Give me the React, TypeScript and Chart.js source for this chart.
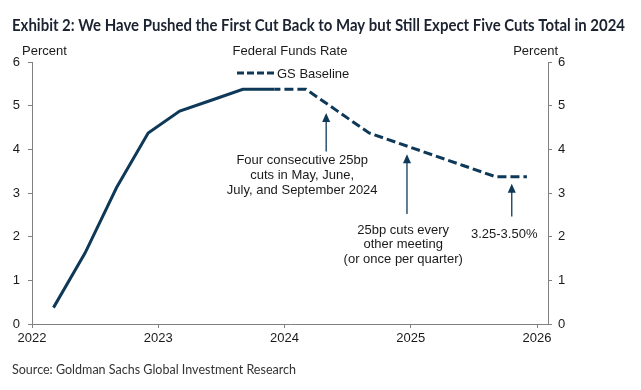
import React, { useEffect, useRef } from "react";
import { Chart, registerables } from "chart.js";

Chart.register(...registerables);

// ---- data ----
const titleText = "Exhibit 2: We Have Pushed the First Cut Back to May but Still Expect Five Cuts Total in 2024";
const sourceText = "Source: Goldman Sachs Global Investment Research";
const chartLabel = "Federal Funds Rate";
const seriesName = "GS Baseline";
const axisUnit = "Percent";

// decimal years (quarterly observations), fed funds target-range midpoint
const actualDates = [2022.17, 2022.42, 2022.67, 2022.92, 2023.17, 2023.42, 2023.67, 2023.92];
const actualValues = [0.375, 1.625, 3.125, 4.375, 4.875, 5.125, 5.375, 5.375];
const baselineDates = [2023.92, 2024.17, 2024.42, 2024.67, 2024.92, 2025.17, 2025.42, 2025.67, 2025.92];
const baselineValues = [5.375, 5.375, 4.875, 4.375, 4.125, 3.875, 3.625, 3.375, 3.375];

const xMin = 2022;
const xMax = 2026.087;
const yTicks = [0, 1, 2, 3, 4, 5, 6];

// annotations: arrow x, arrow tip y, arrow base y, text x, first text line y (data units)
const annotations = [
  { x: 2024.33, tip: 4.83, base: 3.95, tx: 2024.14, ty: 3.74, lines: ["Four consecutive 25bp", "cuts in May, June,", "July, and September 2024"] },
  { x: 2024.97, tip: 3.89, base: 2.52, tx: 2024.94, ty: 2.15, lines: ["25bp cuts every", "other meeting", "(or once per quarter)"] },
  { x: 2025.8, tip: 3.21, base: 2.46, tx: 2025.74, ty: 2.04, lines: ["3.25-3.50%"] },
];

const LINE = "#0e3858";
const AXIS = "#808080";
const TEXT = "#1a1a1a";
const FONT = '"Liberation Sans", Arial, sans-serif';
const HEAD = 'Lato, "Open Sans", sans-serif';

// draw text squeezed horizontally to a target width
function drawFitted(ctx: CanvasRenderingContext2D, text: string, font: string, x: number, y: number, target: number) {
  ctx.save();
  ctx.font = font;
  const w = ctx.measureText(text).width;
  const k = target / w;
  ctx.translate(x, y);
  ctx.scale(k, 1);
  ctx.textAlign = "left";
  ctx.fillText(text, 0, 0);
  ctx.restore();
}

const decorPlugin = {
  id: "decor",
  afterDraw(chart: any) {
    const ctx: CanvasRenderingContext2D = chart.ctx;
    const xs = chart.scales.x;
    const ys = chart.scales.y;
    ctx.save();
    ctx.textBaseline = "alphabetic";
    // title
    ctx.fillStyle = "#1b2230";
    drawFitted(ctx, titleText, `bold 17px ${HEAD}`, 12, 31, 613);
    // source
    ctx.fillStyle = "#333333";
    drawFitted(ctx, sourceText, `13.5px ${HEAD}`, 12, 374, 284);

    // axis units and chart label
    ctx.fillStyle = TEXT;
    ctx.font = `13px ${FONT}`;
    ctx.textAlign = "left";
    ctx.fillText(axisUnit, 22, 55);
    ctx.textAlign = "right";
    ctx.fillText(axisUnit, 558, 55);
    ctx.textAlign = "center";
    ctx.fillText(chartLabel, 290, 55);

    // legend
    ctx.strokeStyle = LINE;
    ctx.lineWidth = 3;
    ctx.setLineDash([7, 3]);
    ctx.beginPath();
    ctx.moveTo(237, 73);
    ctx.lineTo(275, 73);
    ctx.stroke();
    ctx.setLineDash([]);
    ctx.textAlign = "left";
    ctx.font = `13px ${FONT}`;
    ctx.fillText(seriesName, 277, 77.5);

    // annotations
    for (const a of annotations) {
      const ax = xs.getPixelForValue(a.x);
      const tipY = ys.getPixelForValue(a.tip);
      const baseY = ys.getPixelForValue(a.base);
      ctx.strokeStyle = LINE;
      ctx.fillStyle = LINE;
      ctx.lineWidth = 1.3;
      ctx.beginPath();
      ctx.moveTo(ax, baseY);
      ctx.lineTo(ax, tipY + 7);
      ctx.stroke();
      ctx.beginPath();
      ctx.moveTo(ax, tipY);
      ctx.lineTo(ax - 4, tipY + 9);
      ctx.lineTo(ax + 4, tipY + 9);
      ctx.closePath();
      ctx.fill();

      ctx.fillStyle = TEXT;
      ctx.font = `13px ${FONT}`;
      ctx.textAlign = "center";
      ctx.textBaseline = "middle";
      const tx = xs.getPixelForValue(a.tx);
      const ty = ys.getPixelForValue(a.ty);
      a.lines.forEach((l, i) => ctx.fillText(l, tx, ty + i * 14.8));
      ctx.textBaseline = "alphabetic";
    }
    ctx.restore();
  },
};

export default function App() {
  const ref = useRef<HTMLCanvasElement | null>(null);
  useEffect(() => {
    if (!ref.current) return;
    const chart = new Chart(ref.current, {
      type: "line",
      data: {
        datasets: [
          {
            label: chartLabel,
            data: actualDates.map((d, i) => ({ x: d, y: actualValues[i] })),
            borderColor: LINE,
            borderWidth: 3,
            pointRadius: 0,
            tension: 0,
            fill: false,
          },
          {
            label: seriesName,
            data: baselineDates.map((d, i) => ({ x: d, y: baselineValues[i] })),
            borderColor: LINE,
            borderWidth: 3,
            borderDash: [9, 4],
            borderDashOffset: 3,
            pointRadius: 0,
            tension: 0,
            fill: false,
          },
        ],
      },
      options: {
        responsive: false,
        animation: false,
        layout: { padding: { left: 0, right: 53, top: 62, bottom: 36 } },
        plugins: { legend: { display: false }, tooltip: { enabled: false }, title: { display: false } },
        scales: {
          x: {
            type: "linear",
            min: xMin,
            max: xMax,
            afterFit: (s: any) => { s.height = 30; },
            border: { color: AXIS, width: 1 },
            grid: { drawOnChartArea: false, tickLength: 4, color: AXIS },
            ticks: {
              stepSize: 1,
              includeBounds: false,
              maxRotation: 0,
              padding: 3,
              color: TEXT,
              font: { family: FONT, size: 13 },
              callback: (v: any) => (Number.isInteger(v) ? String(v) : ""),
            },
          },
          y: {
            position: "left",
            min: yTicks[0],
            max: yTicks[yTicks.length - 1],
            afterFit: (s: any) => { s.width = 32; },
            border: { color: AXIS, width: 1 },
            grid: { drawOnChartArea: false, tickLength: 4, color: AXIS },
            ticks: { stepSize: 1, padding: 8, color: TEXT, font: { family: FONT, size: 13 } },
          },
          y2: {
            position: "right",
            min: yTicks[0],
            max: yTicks[yTicks.length - 1],
            afterFit: (s: any) => { s.width = 40; },
            border: { color: AXIS, width: 1 },
            grid: { drawOnChartArea: false, tickLength: 4, color: AXIS },
            ticks: { stepSize: 1, padding: 6, color: TEXT, font: { family: FONT, size: 13 } },
          },
        },
      },
      plugins: [decorPlugin],
    } as any);
    return () => chart.destroy();
  }, []);
  return (
    <div style={{ position: "absolute", left: 0, top: 0, width: 641, height: 390, background: "#fff" }}>
      <canvas ref={ref} width={641} height={390} />
    </div>
  );
}
